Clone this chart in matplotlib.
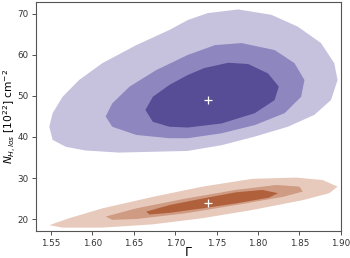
import matplotlib.pyplot as plt

# contour outlines (Gamma, N_H)
purple_outer_g = [1.548, 1.552, 1.564, 1.584, 1.612, 1.653, 1.693, 1.715, 1.739, 1.776, 1.816,
                  1.848, 1.876, 1.892, 1.896, 1.888, 1.868, 1.836, 1.796, 1.756, 1.715, 1.632,
                  1.592, 1.568, 1.552, 1.548]
purple_outer_n = [42.5, 45.8, 49.8, 53.9, 58.0, 62.4, 66.1, 68.5, 70.2, 71.1, 69.8,
                  66.9, 62.9, 58.0, 53.9, 49.0, 45.4, 42.5, 40.1, 38.0, 36.6, 36.2,
                  36.7, 37.6, 39.3, 42.5]

purple_mid_g = [1.616, 1.624, 1.645, 1.677, 1.715, 1.748, 1.780, 1.820, 1.844, 1.856, 1.852,
                1.832, 1.796, 1.756, 1.715, 1.693, 1.653, 1.624, 1.616]
purple_mid_n = [45.0, 48.2, 52.3, 56.3, 60.0, 62.4, 62.9, 61.2, 58.0, 53.9, 49.8,
                45.8, 42.9, 40.9, 39.7, 39.7, 40.5, 42.5, 45.0]

purple_in_g = [1.664, 1.673, 1.693, 1.715, 1.735, 1.764, 1.788, 1.812, 1.825, 1.820, 1.796,
               1.756, 1.715, 1.693, 1.673, 1.664]
purple_in_n = [46.6, 49.8, 52.7, 55.1, 56.8, 58.1, 57.8, 55.5, 52.3, 49.0, 45.8,
               43.3, 42.3, 42.5, 43.7, 46.6]

orange_outer_g = [1.548, 1.572, 1.612, 1.673, 1.733, 1.793, 1.846, 1.878, 1.896, 1.886, 1.854,
                  1.793, 1.733, 1.673, 1.612, 1.564, 1.548]
orange_outer_n = [18.5, 20.2, 22.6, 25.4, 27.9, 29.8, 30.1, 29.5, 27.9, 26.3, 24.6,
                  22.2, 20.2, 18.7, 17.9, 17.9, 18.5]

orange_mid_g = [1.616, 1.653, 1.713, 1.773, 1.822, 1.850, 1.854, 1.830, 1.773, 1.713, 1.653,
                1.624, 1.616]
orange_mid_n = [20.6, 22.6, 25.0, 27.1, 28.3, 27.9, 26.7, 25.4, 23.4, 21.4, 20.0,
                19.8, 20.6]

orange_in_g = [1.665, 1.693, 1.733, 1.773, 1.805, 1.824, 1.813, 1.773, 1.733, 1.693, 1.669, 1.665]
orange_in_n = [21.8, 23.4, 25.0, 26.5, 27.1, 26.3, 25.2, 23.8, 22.6, 21.5, 21.1, 21.8]

best_g = [1.74, 1.74]
best_n = [49.0, 23.8]

fig = plt.figure(figsize=(3.5, 2.58), dpi=100)
ax = fig.add_axes([0.103, 0.105, 0.871, 0.887])

ax.fill(purple_outer_g, purple_outer_n, color="#c6c2de", lw=0)
ax.fill(purple_mid_g, purple_mid_n, color="#8e87bf", lw=0)
ax.fill(purple_in_g, purple_in_n, color="#574c96", lw=0)
ax.fill(orange_outer_g, orange_outer_n, color="#e8cabd", lw=0)
ax.fill(orange_mid_g, orange_mid_n, color="#cf9b83", lw=0)
ax.fill(orange_in_g, orange_in_n, color="#b0603b", lw=0)
ax.plot(best_g, best_n, "+", color="white", ms=6, mew=0.9, ls="none")

ax.set_xlim(1.532, 1.90)
ax.set_ylim(17.1, 72.9)
ax.set_xticks([1.55, 1.60, 1.65, 1.70, 1.75, 1.80, 1.85, 1.90])
ax.set_yticks([20, 30, 40, 50, 60, 70])
ax.tick_params(labelsize=6.3, length=3, width=0.6, pad=2.5, colors="#333333")
for s in ax.spines.values():
    s.set_linewidth(0.8)
    s.set_color("#555555")
ax.set_xlabel(r"$\Gamma$", fontsize=9)
ax.set_ylabel(r"$N_{H,los}$ [$10^{22}$] cm$^{-2}$", fontsize=7.7)
ax.xaxis.set_label_coords(0.5, -0.064)
ax.yaxis.set_label_coords(-0.058, 0.5)

fig.savefig("out.png", dpi=100)
